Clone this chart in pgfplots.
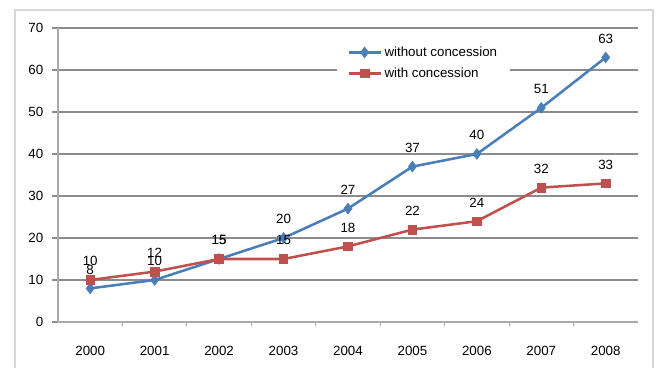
\documentclass[border=0pt]{standalone}
\usepackage{pgfplots}
\pgfplotsset{compat=1.18}
\usepackage{fontspec}
\setmainfont{Liberation Sans}

\definecolor{serblue}{RGB}{74,126,187}
\definecolor{serred}{RGB}{192,80,77}
\definecolor{gridgray}{RGB}{140,140,140}
\definecolor{axisgray}{RGB}{170,170,170}
\definecolor{framegray}{RGB}{215,215,215}

\begin{document}
\begin{tikzpicture}
  % page area and outer chart frame (1 unit = 0.75pt, y up)
  \begin{scope}[x=0.75pt,y=0.75pt]
    \path[use as bounding box] (0,0) rectangle (657,368);
    \draw[framegray, line width=1.2pt] (15,0) -- (15,358) -- (653,358) -- (653,0);
  \end{scope}

  \begin{axis}[
    at={(67.65pt,34.5pt)}, anchor=origin,
    scale only axis,
    width=435pt, height=220.5pt,
    xmin=-0.5, xmax=8.5,
    ymin=0, ymax=70,
    axis x line*=bottom, axis y line*=left,
    axis line style={axisgray, line width=1pt, -},
    xtick={0,...,8},
    xticklabels={2000,2001,2002,2003,2004,2005,2006,2007,2008},
    minor xtick={0.5,1.5,...,7.5},
    ytick={0,10,...,70},
    ymajorgrids,
    grid style={gridgray, line width=0.9pt},
    tick align=outside,
    major tick length=4.5pt,
    minor tick length=3pt,
    x tick style={draw=none},
    minor x tick style={axisgray, line width=0.8pt, draw=axisgray},
    y tick style={gridgray, line width=0.9pt},
    tick label style={font=\fontsize{10}{12}\selectfont},
    /pgf/number format/assume math mode=true,
    xticklabel style={yshift=-10pt},
    yticklabel style={xshift=-3pt},
    clip=false,
    nodes near coords,
    every node near coord/.append style={
      font=\fontsize{10}{12}\selectfont, black, yshift=7pt},
    legend style={
      at={(rel axis cs:0.48,0.965)}, anchor=north west,
      draw=none, fill=white,
      font=\fontsize{10}{12}\selectfont,
      row sep=3pt, inner xsep=8pt, inner ysep=4pt,
      legend cell align=left},
    legend image code/.code={%
      \draw[mark repeat=2,mark phase=2,#1]
        plot coordinates {(0pt,0pt) (12pt,0pt) (24pt,0pt)};},
  ]
    \addplot[serblue, line width=1.9pt,
             mark=diamond*, mark size=4pt,
             mark options={fill=serblue, line width=0.5pt}]
      coordinates {(0,8) (1,10) (2,15) (3,20) (4,27) (5,37) (6,40) (7,51) (8,63)};
    \addlegendentry{without concession}

    \addplot[serred, line width=1.9pt,
             mark=square*, mark size=3.2pt,
             mark options={fill=serred, line width=0.5pt}]
      coordinates {(0,10) (1,12) (2,15) (3,15) (4,18) (5,22) (6,24) (7,32) (8,33)};
    \addlegendentry{with concession}
  \end{axis}
\end{tikzpicture}
\end{document}
